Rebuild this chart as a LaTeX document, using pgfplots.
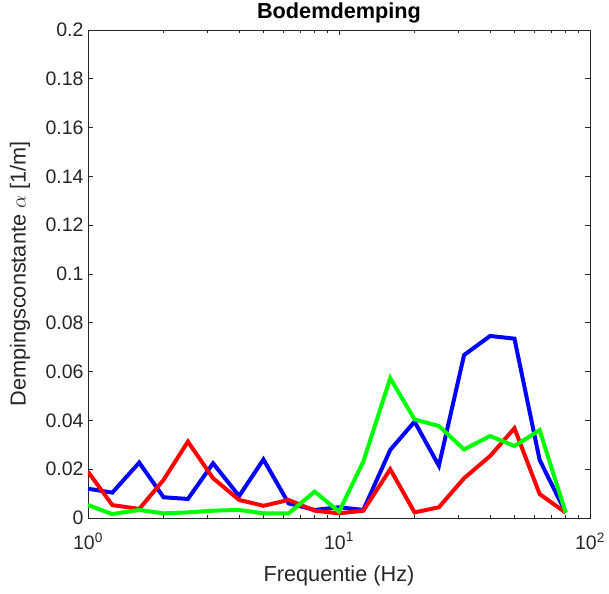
\documentclass[border=0pt]{standalone}
\usepackage{fontspec}
\setmainfont{Liberation Sans}
\usepackage{pgfplots}
\pgfplotsset{compat=1.18}
\definecolor{axgray}{RGB}{38,38,38}
\definecolor{mblue}{RGB}{0,0,255}
\definecolor{mred}{RGB}{255,0,0}
\definecolor{mgreen}{RGB}{0,255,0}
\begin{document}
\begin{tikzpicture}
\begin{axis}[name=ax, scale only axis, width=502pt, height=488pt,
  xmode=log, xmin=1, xmax=100, ymin=0, ymax=0.2,
  xtick={1,10,100},
  minor xtick={2,3,4,5,6,7,8,9,20,30,40,50,60,70,80,90},
  xticklabels={10\textsuperscript{0},10\textsuperscript{1},10\textsuperscript{2}},
  ytick={0,0.02,0.04,0.06,0.08,0.1,0.12,0.14,0.16,0.18,0.2},
  yticklabels={0,0.02,0.04,0.06,0.08,0.1,0.12,0.14,0.16,0.18,0.2},
  tick align=inside, major tick length=5pt, minor tick length=3pt,
  axis line style={axgray, line width=0.8pt},
  every tick/.style={axgray, line width=0.8pt},
  ticklabel style={font=\fontsize{19.5}{21}\selectfont, text=axgray},
  yticklabel style={xshift=-1pt},
  xticklabel style={yshift=-11pt},
  title={Bodemdemping},
  every axis title/.style={font=\bfseries\fontsize{21.7}{24}\selectfont, text=black, inner sep=0pt, at={([yshift=17pt]rel axis cs:0.5,1)}, anchor=center},
  xlabel={Frequentie (Hz)},
  every axis x label/.style={font=\fontsize{21.7}{24}\selectfont, text=axgray, inner sep=0pt, at={([yshift=-58pt]rel axis cs:0.5,0)}, anchor=center},
  ylabel={Dempingsconstante $\alpha$ [1/m]},
  every axis y label/.style={font=\fontsize{21.7}{24}\selectfont, text=axgray, inner sep=0pt, rotate=90, at={([xshift=-68pt]rel axis cs:0,0.5)}, anchor=center},
  every axis plot/.append style={line width=4pt, no markers},
]
\addplot[mblue] coordinates {
(1,0.012) (1.25,0.0104) (1.6,0.0227) (2,0.0085) (2.5,0.0078) (3.15,0.0224) (4,0.009) (5,0.024) (6.3,0.006) (8,0.0033)
(10,0.0044) (12.5,0.0033) (16,0.0279) (20,0.0395) (25,0.0214) (31.5,0.0668) (40,0.0746) (50,0.0735) (63,0.0238) (80,0.0022)};
\addplot[mred] coordinates {
(1,0.019) (1.25,0.0053) (1.6,0.0037) (2,0.0156) (2.5,0.0313) (3.15,0.0163) (4,0.0074) (5,0.005) (6.3,0.0074) (8,0.003)
(10,0.0019) (12.5,0.003) (16,0.020) (20,0.0023) (25,0.0044) (31.5,0.0163) (40,0.0254) (50,0.0368) (63,0.0098) (80,0.0022)};
\addplot[mgreen] coordinates {
(1,0.0053) (1.25,0.0016) (1.6,0.0033) (2,0.0019) (2.5,0.0023) (3.15,0.003) (4,0.0033) (5,0.0019) (6.3,0.0019) (8,0.0108)
(10,0.0026) (12.5,0.0231) (16,0.0573) (20,0.0404) (25,0.0377) (31.5,0.0281) (40,0.0336) (50,0.0295) (63,0.036) (80,0.0022)};
\end{axis}
\path (ax.south west) ++(-88pt,-75pt) rectangle ++(609pt,593pt);
\end{tikzpicture}
\end{document}
